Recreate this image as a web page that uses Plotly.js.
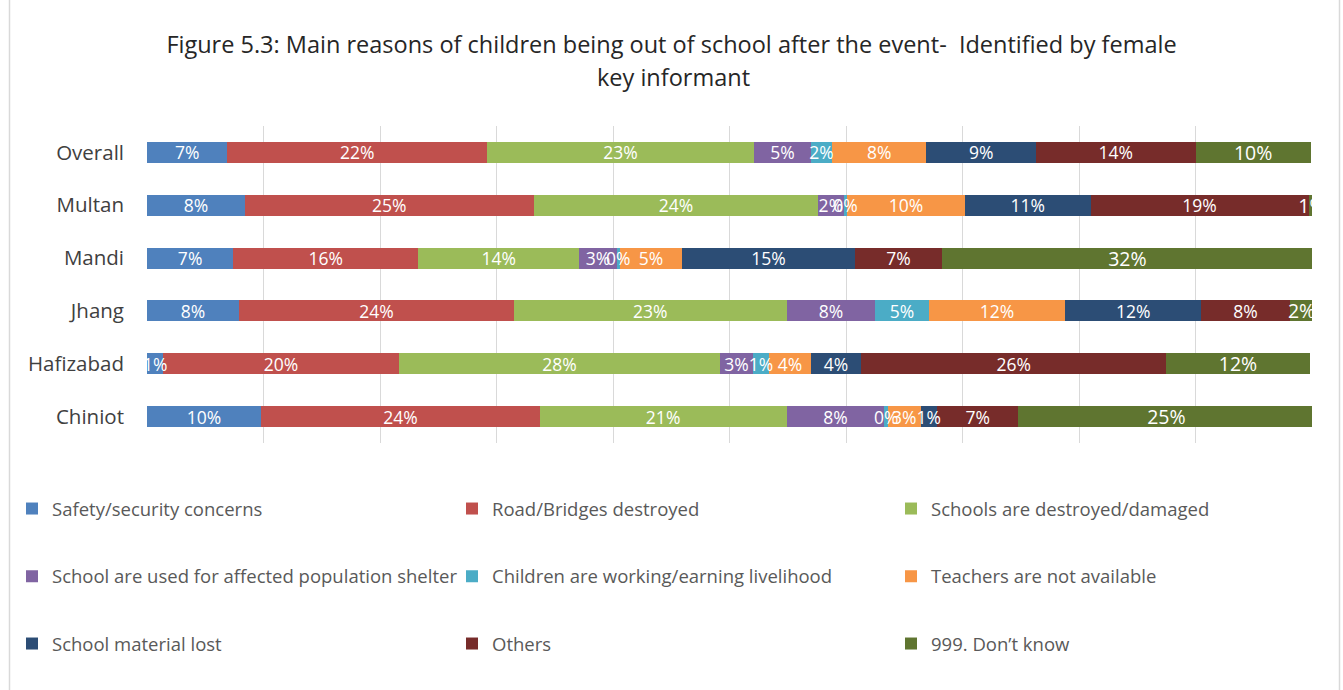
<!DOCTYPE html>
<html>
<head>
<meta charset="utf-8">
<script src="https://cdn.plot.ly/plotly-3.0.1.min.js"></script>
<style>
  html, body { margin: 0; padding: 0; background: #fff; }
  #chart { width: 1343px; height: 690px; }
</style>
</head>
<body>
<div id="chart"></div>
<script>
// Categories (top to bottom)
const categories = ["Overall", "Multan", "Mandi", "Jhang", "Hafizabad", "Chiniot"];

// Series values (percent)
const safetyConcerns    = [6.9, 8.4, 7.4, 7.9, 1.4, 9.8];
const roadBridges       = [22.3, 24.8, 15.9, 23.6, 20.2, 23.9];
const schoolsDestroyed  = [22.9, 24.4, 13.8, 23.4, 27.6, 21.2];
const shelterUse        = [4.9, 2.2, 3.2, 7.6, 2.8, 8.4];
const childrenWorking   = [1.8, 0.3, 0.3, 4.6, 1.4, 0.3];
const teachersAbsent    = [8.1, 10.1, 5.3, 11.7, 3.6, 2.8];
const materialLost      = [9.4, 10.8, 14.9, 11.7, 4.3, 1.4];
const others            = [13.7, 18.7, 7.4, 7.6, 26.2, 7.0];
const dontKnow          = [9.9, 0.6, 31.9, 2.0, 12.3, 25.4];

const seriesNames = [
  "Safety/security concerns",
  "Road/Bridges destroyed",
  "Schools are destroyed/damaged",
  "School are used for affected population shelter",
  "Children are working/earning livelihood",
  "Teachers are not available",
  "School material lost",
  "Others",
  "999. Don\u2019t know"
];
const seriesValues = [safetyConcerns, roadBridges, schoolsDestroyed, shelterUse,
  childrenWorking, teachersAbsent, materialLost, others, dontKnow];
const seriesColors = ["#4F81BD", "#C0504D", "#9BBB59", "#8064A2", "#4BACC6",
  "#F79646", "#2C4D75", "#772C2A", "#5F7530"];

const FONT = "Open Sans, Noto Sans, sans-serif";
const W = 1343, H = 690;
const PL = 147, PR = 1312, PT = 125.5, PB = 443.5;

const legendIds = ["legend", "legend2", "legend3", "legend4", "legend5",
  "legend6", "legend7", "legend8", "legend9"];

// Coloured bar segments (main axes)
const barTraces = seriesNames.map((name, i) => ({
  type: "bar",
  orientation: "h",
  name: name,
  y: categories,
  x: seriesValues[i],
  marker: { color: seriesColors[i], line: { width: 0 } },
  legend: legendIds[i],
  hoverinfo: "name+x"
}));

// Same stacks on an overlaid pair of axes, transparent, carrying the data labels
// so that every label is drawn above all coloured segments (as in the original).
const labelTraces = seriesNames.map((name, i) => ({
  type: "bar",
  orientation: "h",
  name: name,
  y: categories,
  x: seriesValues[i],
  xaxis: "x2",
  yaxis: "y2",
  showlegend: false,
  marker: { color: "rgba(0,0,0,0)", line: { width: 0 } },
  texttemplate: "%{x:.0f}%",
  textposition: "inside",
  insidetextanchor: "middle",
  textangle: 0,
  constraintext: "none",
  textfont: { color: "#ffffff", size: i === 8 ? 19.5 : 17.5, family: FONT },
  hoverinfo: "skip"
}));

// legend placement (page px of legend box left edge / item centre line)
const colLeft = [12, 452, 891];
const rowMid = [509, 576.7, 644];

const layout = {
  width: W, height: H,
  margin: { l: PL, r: W - PR, t: PT, b: H - PB },
  paper_bgcolor: "#ffffff",
  plot_bgcolor: "#ffffff",
  font: { family: FONT, color: "#404040" },
  barmode: "stack",
  bargap: 0.6,
  showlegend: true,
  title: {
    text: "Figure 5.3: Main reasons of children being out of school after the event-&nbsp; Identified by female",
    font: { size: 23.5, color: "#262626", family: FONT },
    x: 0.5, xref: "container", xanchor: "center",
    y: 1 - 45 / H, yref: "container", yanchor: "middle"
  },
  annotations: [{
    text: "key informant",
    xref: "paper", yref: "paper",
    x: (673 - PL) / (PR - PL), y: (PB - 76) / (PB - PT),
    xanchor: "center", yanchor: "middle",
    showarrow: false,
    font: { size: 23.5, color: "#262626", family: FONT }
  }],
  shapes: [
    { type: "line", xref: "paper", yref: "paper", layer: "below",
      x0: (9.5 - PL) / (PR - PL), x1: (9.5 - PL) / (PR - PL), y0: -1, y1: 1.5,
      line: { color: "#d9d9d9", width: 1.5 } },
    { type: "line", xref: "paper", yref: "paper", layer: "below",
      x0: (1339.5 - PL) / (PR - PL), x1: (1339.5 - PL) / (PR - PL), y0: -1, y1: 1.5,
      line: { color: "#d9d9d9", width: 1.5 } }
  ],
  xaxis: {
    range: [0, 100],
    dtick: 10,
    showticklabels: false,
    showgrid: true,
    gridcolor: "#d9d9d9",
    gridwidth: 1,
    zeroline: false,
    showline: false,
    fixedrange: true
  },
  yaxis: {
    type: "category",
    categoryarray: categories,
    autorange: "reversed",
    showgrid: false,
    zeroline: false,
    showline: false,
    ticks: "",
    ticklabelstandoff: 22,
    tickfont: { size: 20.5, color: "#404040", family: FONT },
    fixedrange: true
  },
  xaxis2: {
    overlaying: "x",
    range: [0, 100],
    visible: false,
    showgrid: false,
    zeroline: false,
    fixedrange: true
  },
  yaxis2: {
    overlaying: "y",
    type: "category",
    categoryarray: categories,
    autorange: "reversed",
    visible: false,
    showgrid: false,
    zeroline: false,
    fixedrange: true
  }
};

legendIds.forEach((id, i) => {
  const col = i % 3, row = Math.floor(i / 3);
  layout[id] = {
    orientation: "h",
    xref: "container", yref: "container",
    x: colLeft[col] / W, y: 1 - rowMid[row] / H,
    xanchor: "left", yanchor: "middle",
    itemwidth: 30,
    font: { size: 18.5, color: "#595959", family: FONT },
    bgcolor: "rgba(0,0,0,0)"
  };
});

Plotly.newPlot("chart", barTraces.concat(labelTraces), layout,
  { displayModeBar: false, staticPlot: true });
</script>
</body>
</html>
